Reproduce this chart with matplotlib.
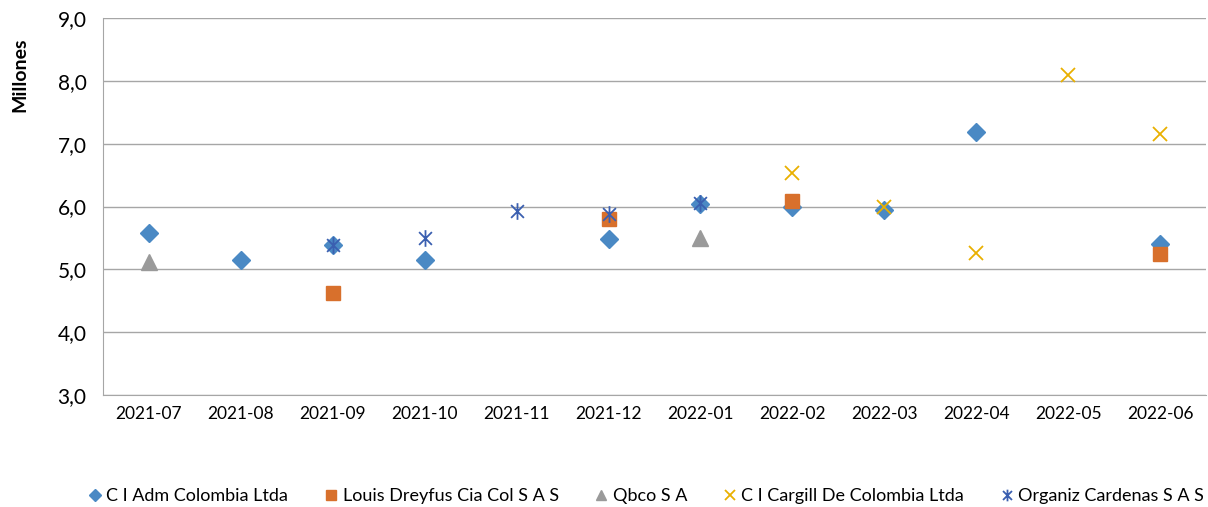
import numpy as np
import matplotlib.pyplot as plt
from matplotlib.path import Path

plt.rcParams['font.family'] = ['Lato', 'DejaVu Sans']

months = ['2021-07', '2021-08', '2021-09', '2021-10', '2021-11', '2021-12',
          '2022-01', '2022-02', '2022-03', '2022-04', '2022-05', '2022-06']
nan = np.nan
adm = [5.58, 5.15, 5.39, 5.15, nan, 5.48, 6.04, 5.99, 5.94, 7.18, nan, 5.40]
dreyfus = [nan, nan, 4.62, nan, nan, 5.80, nan, 6.09, nan, nan, nan, 5.24]
qbco = [5.11, nan, nan, nan, nan, nan, 5.50, nan, nan, nan, nan, nan]
cargill = [nan, nan, nan, nan, nan, nan, nan, 6.53, 5.99, 5.26, 8.09, 7.15]
organiz = [nan, nan, 5.39, 5.50, 5.93, 5.88, 6.05, nan, nan, nan, nan, nan]

# asterisk like excel: x plus vertical bar
ast = Path([(-1, -1), (1, 1), (-1, 1), (1, -1), (0, -1.3), (0, 1.3)],
           [Path.MOVETO, Path.LINETO, Path.MOVETO, Path.LINETO, Path.MOVETO, Path.LINETO])

fig = plt.figure(figsize=(12.08, 5.07), dpi=100)
ax = fig.add_axes([0.0853, 0.2209, 0.913, 0.7436])
x = np.arange(len(months))

ax.plot(x, adm, linestyle='none', marker='D', ms=9, color='#4A89C4', label='C I Adm Colombia Ltda')
ax.plot(x, dreyfus, linestyle='none', marker='s', ms=10, color='#D8702C', label='Louis Dreyfus Cia Col S A S')
ax.plot(x, qbco, linestyle='none', marker='^', ms=11, color='#9A9A9A', label='Qbco S A')
ax.plot(x, cargill, linestyle='none', marker='x', ms=10, mew=1.3, color='#E9B000', label='C I Cargill De Colombia Ltda')
ax.plot(x, organiz, linestyle='none', marker=ast, ms=12, mew=1.3, color='#3A5FB0', label='Organiz Cardenas S A S')

ax.set_xlim(-0.5, len(months) - 0.5)
ax.set_ylim(3, 9)
ax.set_yticks(np.arange(3, 9.01, 1))
ax.set_yticklabels([f'{v:.1f}'.replace('.', ',') for v in np.arange(3, 9.01, 1)], fontsize=15)
ax.set_xticks(x)
ax.set_xticklabels(months, fontsize=12.5)
ax.tick_params(length=0, pad=8)
ax.tick_params(axis='y', pad=12)
ax.grid(axis='y', color='#A6A6A6', linewidth=1)
ax.set_axisbelow(True)
for s in ['top', 'right']:
    ax.spines[s].set_visible(False)
for s in ['left', 'bottom']:
    ax.spines[s].set_color('#A6A6A6')
ax.set_ylabel('Millones', fontsize=14, fontweight='bold')
ax.yaxis.set_label_coords(-0.068, 0.85)

leg = fig.legend(loc='lower center', bbox_to_anchor=(0.535, -0.027), ncol=5, frameon=False,
                 fontsize=13, handlelength=0.7, handletextpad=0.3, columnspacing=2.0,
                 markerscale=0.7)

plt.savefig('out.png', dpi=100)
